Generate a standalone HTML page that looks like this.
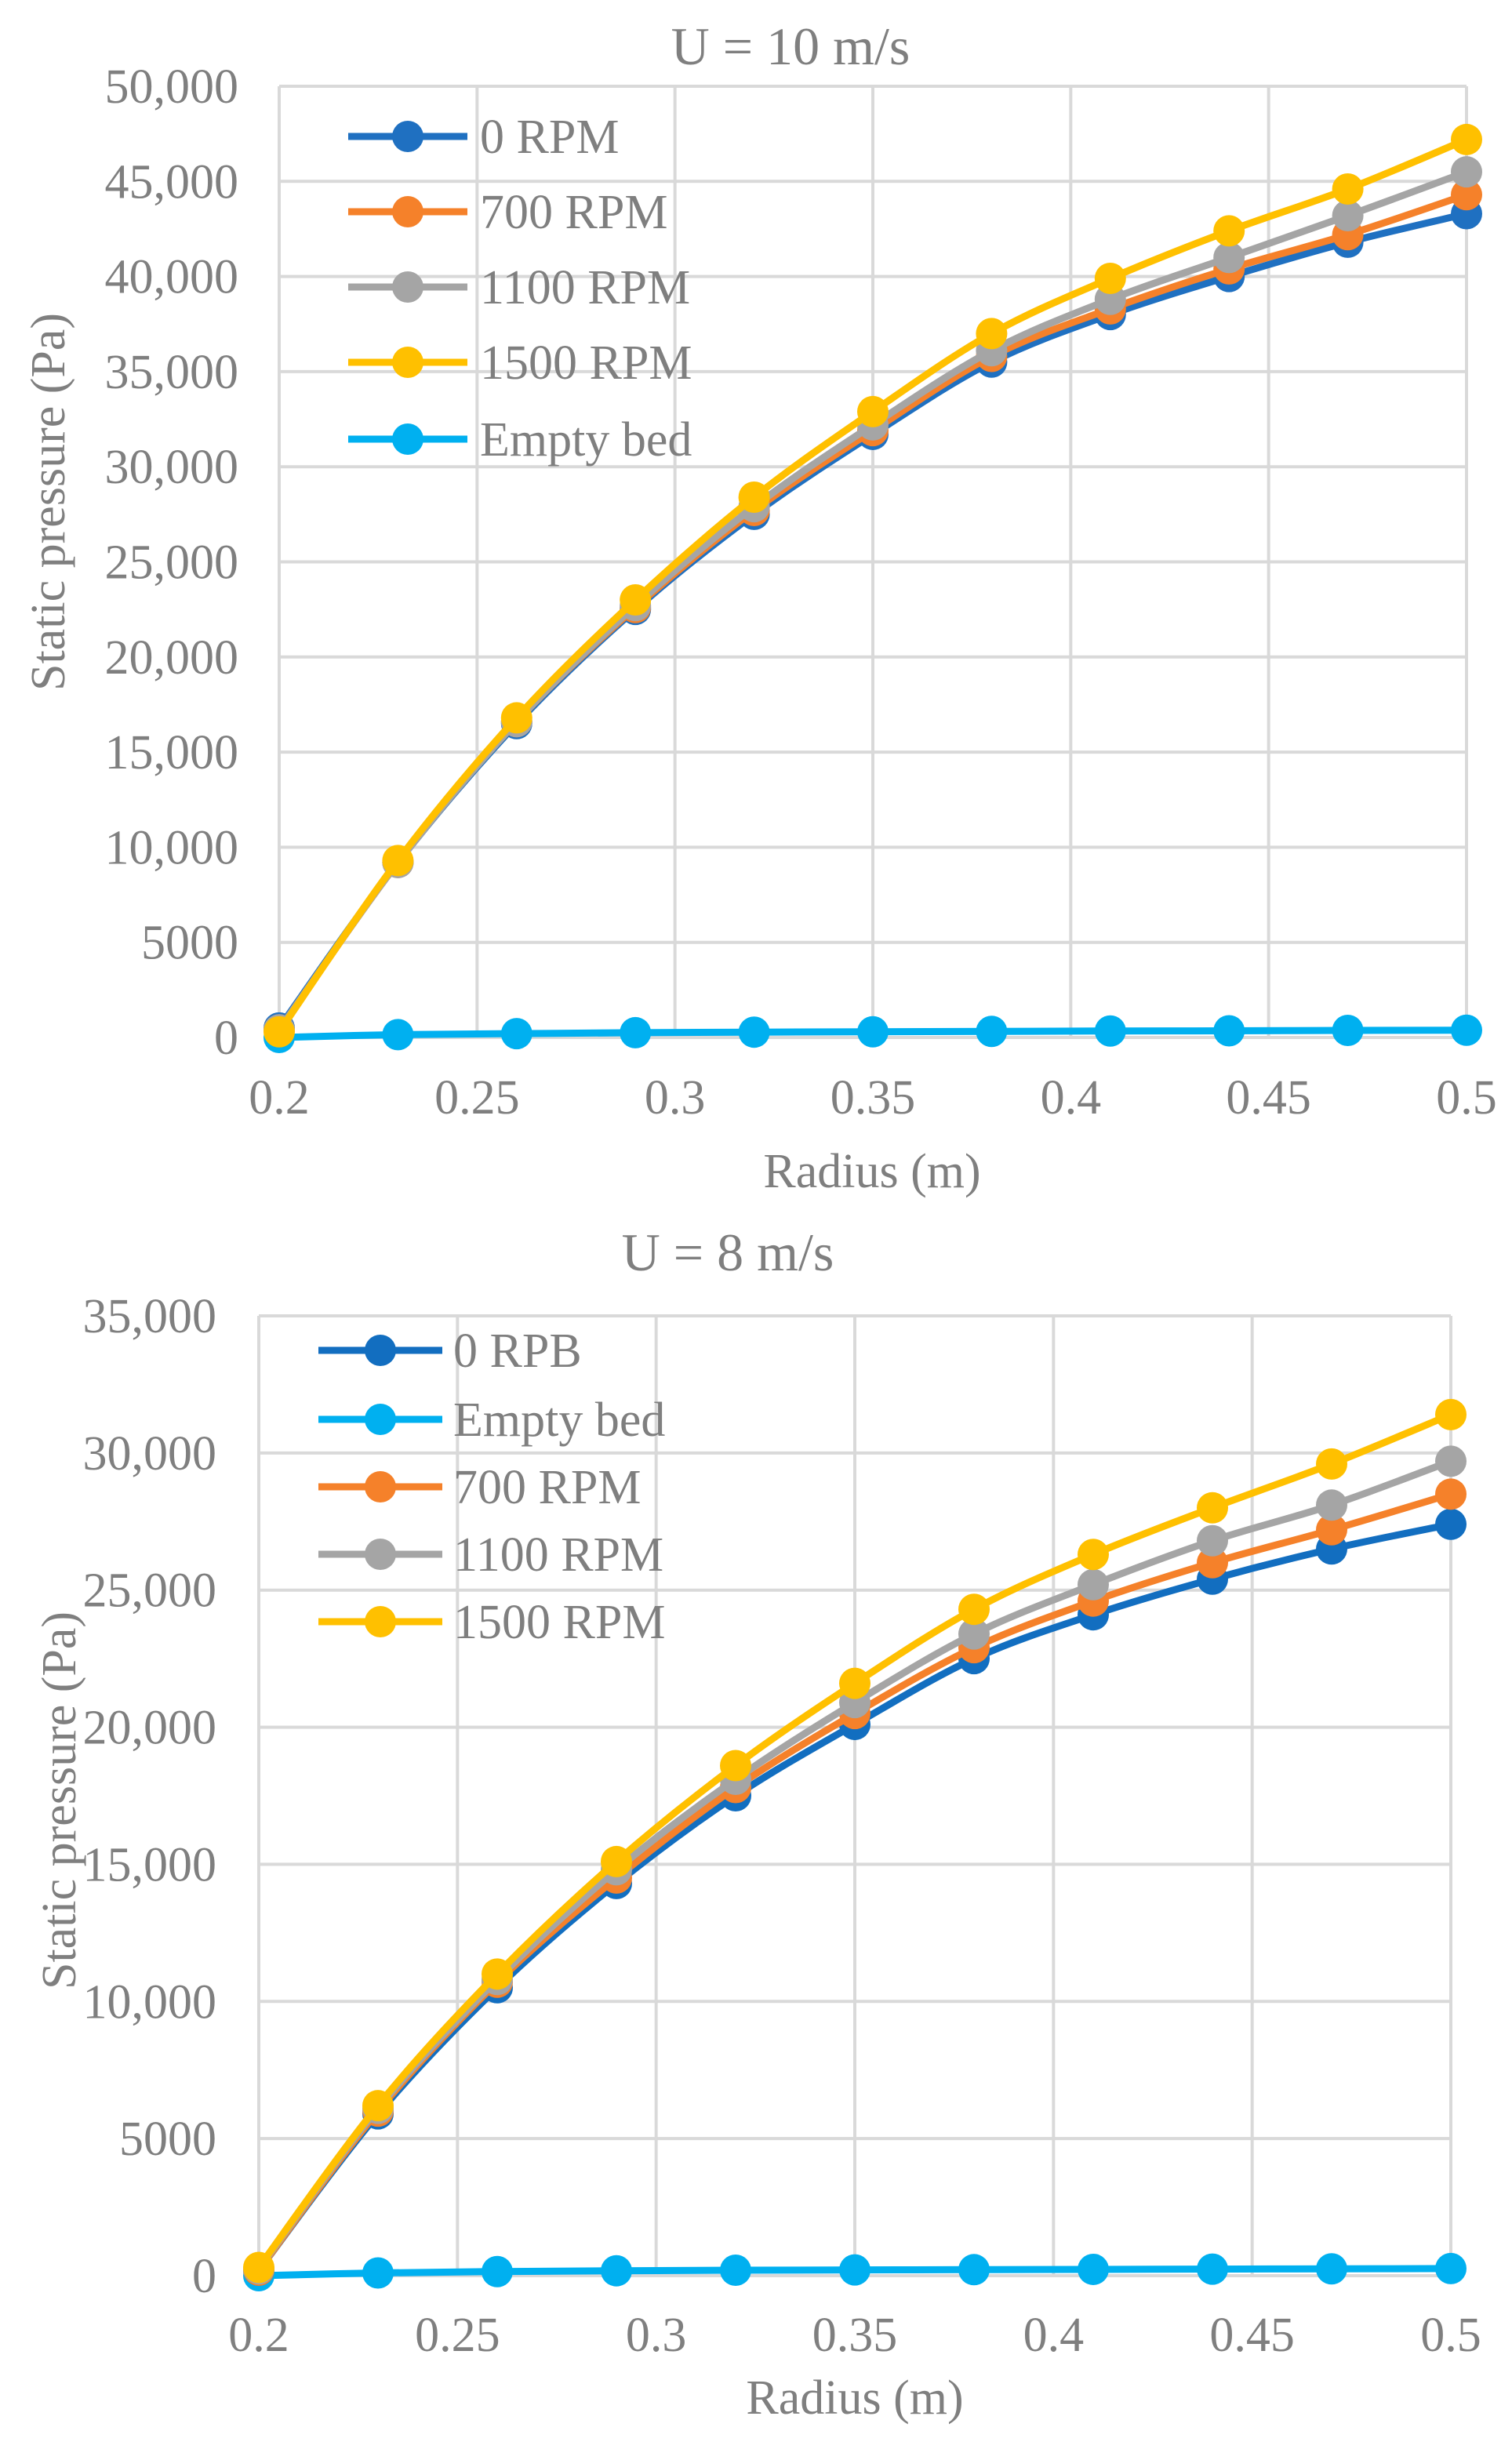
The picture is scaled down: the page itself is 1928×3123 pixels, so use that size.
<!DOCTYPE html>
<html><head><meta charset="utf-8"><style>
html,body{margin:0;padding:0;background:#fff}
svg{display:block}
text{font-family:"Liberation Serif",serif;fill:#7f7f7f}
</style></head><body>
<svg id="s" width="1928" height="3123" viewBox="0 0 1928 3123"></svg>
<script>
const radii=[0.2,0.23,0.26,0.29,0.32,0.35,0.38,0.41,0.44,0.47,0.5];
const xTicks=[0.2,0.25,0.3,0.35,0.4,0.45,0.5];
const xTickLabels=["0.2","0.25","0.3","0.35","0.4","0.45","0.5"];
const topYTicks=[0,5000,10000,15000,20000,25000,30000,35000,40000,45000,50000];
const topYTickLabels=["0","5000","10,000","15,000","20,000","25,000","30,000","35,000","40,000","45,000","50,000"];
const botYTicks=[0,5000,10000,15000,20000,25000,30000,35000];
const botYTickLabels=["0","5000","10,000","15,000","20,000","25,000","30,000","35,000"];
const top0=[500,9200,16500,22500,27500,31700,35500,38000,40000,41800,43300];
const top700=[400,9200,16600,22600,27700,31900,35800,38300,40400,42200,44300];
const top1100=[400,9200,16600,22700,27900,32200,36100,38800,41000,43200,45500];
const top1500=[300,9300,16800,23000,28400,32900,37000,39900,42400,44600,47200];
const topEmpty=[0,150,200,250,280,300,320,340,350,370,380];
const bot0=[200,5900,10500,14300,17500,20100,22500,24100,25400,26500,27400];
const botEmpty=[0,100,150,180,200,210,220,230,240,250,260];
const bot700=[200,6000,10700,14500,17800,20500,22900,24600,26000,27200,28500];
const bot1100=[250,6100,10800,14800,18100,20900,23400,25200,26800,28100,29700];
const bot1500=[300,6200,11000,15100,18600,21600,24300,26300,28000,29600,31400];

const NS="http://www.w3.org/2000/svg";
const svg=document.getElementById('s');
function mk(tag,attrs,parent){const e=document.createElementNS(NS,tag);for(const k in attrs)e.setAttribute(k,attrs[k]);(parent||svg).appendChild(e);return e;}
function smooth(pts){let d=`M${pts[0][0]},${pts[0][1]}`;for(let i=0;i<pts.length-1;i++){const p0=pts[i-1]||pts[i],p1=pts[i],p2=pts[i+1],p3=pts[i+2]||p2;const t=6;d+=` C${p1[0]+(p2[0]-p0[0])/t},${p1[1]+(p2[1]-p0[1])/t} ${p2[0]-(p3[0]-p1[0])/t},${p2[1]-(p3[1]-p1[1])/t} ${p2[0]},${p2[1]}`;}return d;}

function chart(cfg){
  const g=mk('g',{});
  
  
  const X=v=>cfg.x0+(v-0.2)/0.3*(cfg.x1-cfg.x0);
  const Y=v=>cfg.y0-v/cfg.ymax*(cfg.y0-cfg.y1);
  cfg.yt.forEach((v,i)=>{
    const l=mk('line',{x1:cfg.x0,x2:cfg.x1,y1:Y(v),y2:Y(v),stroke:'#d9d9d9','stroke-width':4},g);
    
    
    const t=mk('text',{x:cfg.ylx,y:Y(v)+21,'text-anchor':'end','font-size':62},g);
    t.textContent=cfg.yl[i];
    
    
  });
  xTicks.forEach((v,i)=>{
    const l=mk('line',{x1:X(v),x2:X(v),y1:cfg.y1,y2:cfg.y0,stroke:'#d9d9d9','stroke-width':4},g);
    
    
    const t=mk('text',{x:X(v),y:cfg.xly,'text-anchor':'middle','font-size':62},g);
    t.textContent=xTickLabels[i];
    
    
  });
  const tt=mk('text',{x:cfg.tx,y:cfg.ty,'text-anchor':'middle','font-size':68},g);
  tt.textContent=cfg.title;
  
  
  const xt=mk('text',{x:cfg.xtx,y:cfg.xty,'text-anchor':'middle','font-size':62},g);
  xt.textContent='Radius (m)';
  
  
  const yt=mk('text',{x:0,y:0,'text-anchor':'middle','font-size':62,transform:`translate(${cfg.ytx},${cfg.yty}) rotate(-90)`},g);
  yt.textContent='Static pressure (Pa)';
  
  
  cfg.series.forEach(s=>{
    const sg=mk('g',{},g);
    
    
    const pts=radii.map((r,i)=>[X(r),Y(s.data[i])]);
    mk('path',{d:smooth(pts),fill:'none',stroke:s.color,'stroke-width':9,'stroke-linejoin':'round'},sg);
    pts.forEach(p=>{const c=mk('circle',{cx:p[0],cy:p[1],r:20,fill:s.color},sg);
      
      });
  });
  cfg.legend.forEach((s,i)=>{
    const lg=mk('g',{},g);
    
    
    const y=cfg.ly[i];
    mk('line',{x1:cfg.lx0,x2:cfg.lx1,y1:y,y2:y,stroke:s.color,'stroke-width':9},lg);
    mk('circle',{cx:(cfg.lx0+cfg.lx1)/2,cy:y,r:20,fill:s.color},lg);
    const t=mk('text',{x:cfg.ltx,y:y+21,'font-size':62},lg);
    t.textContent=s.label;
  });
}
const BLUE='#1f70c1',ORG='#f5812a',GRY='#a5a5a5',YEL='#ffc000',CYN='#00b0f0';
const tS=[{key:'empty',data:topEmpty,color:CYN},{key:'0-rpm',data:top0,color:BLUE},{key:'700-rpm',data:top700,color:ORG},{key:'1100-rpm',data:top1100,color:GRY},{key:'1500-rpm',data:top1500,color:YEL}];
chart({name:'chart-u10',x0:356,x1:1870,y0:1323,y1:110,ymax:50000,yt:topYTicks,yl:topYTickLabels,ylx:304,xly:1420,
  title:'U = 10 m/s',tx:1008,ty:82,xtx:1112,xty:1514,ytx:82,yty:640,series:tS,
  legend:[{label:'0 RPM',color:BLUE},{label:'700 RPM',color:ORG},{label:'1100 RPM',color:GRY},{label:'1500 RPM',color:YEL},{label:'Empty bed',color:CYN}],
  ly:[174,270,366,462,560],lx0:444,lx1:596,ltx:612});
const bS=[{key:'empty',data:botEmpty,color:CYN},{key:'0-rpb',data:bot0,color:'#126ec0'},{key:'700-rpm',data:bot700,color:ORG},{key:'1100-rpm',data:bot1100,color:GRY},{key:'1500-rpm',data:bot1500,color:YEL}];
chart({name:'chart-u8',x0:330,x1:1850,y0:2902,y1:1678,ymax:35000,yt:botYTicks,yl:botYTickLabels,ylx:276,xly:2998,
  title:'U = 8 m/s',tx:928,ty:1620,xtx:1090,xty:3078,ytx:96,yty:2296,series:bS,
  legend:[{label:'0 RPB',color:'#126ec0'},{label:'Empty bed',color:CYN},{label:'700 RPM',color:ORG},{label:'1100 RPM',color:GRY},{label:'1500 RPM',color:YEL}],
  ly:[1722,1810,1896,1982,2068],lx0:406,lx1:564,ltx:578});
</script>
</body></html>
